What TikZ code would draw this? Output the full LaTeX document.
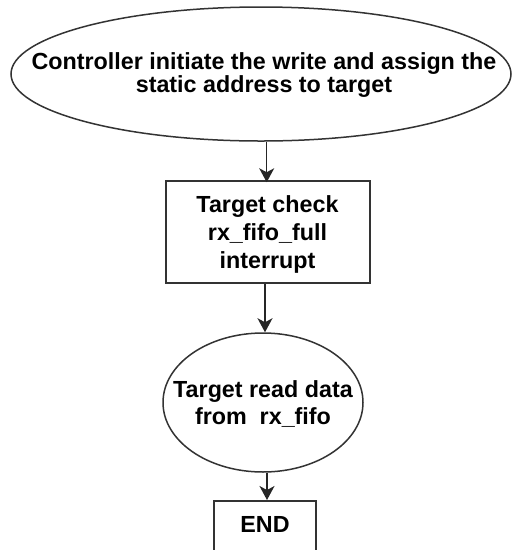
\documentclass[tikz,border=0pt]{standalone}
\usepackage{fontspec}
\setmainfont{Liberation Sans}
\usetikzlibrary{shapes.geometric,arrows.meta}
\begin{document}
\begin{tikzpicture}[x=1pt,y=-1pt,
  outline/.style={draw=black!80, line width=1.5pt},
  flowfont/.style={font=\bfseries\fontsize{23.3}{#1}\selectfont, align=center},
  flowarrow/.style={draw=black!85, line width=1.5pt,
    -{Stealth[length=14pt,width=15pt,inset=4pt]}}]
\clip (0,0) rectangle (512,550);

% start: controller side
\node[outline, ellipse, inner sep=0pt, minimum width=500pt, minimum height=134pt]
  (start) at (261,74) {};
\node[flowfont=23, inner sep=0pt] (startText) at (264,75.5)
  {Controller initiate the write and assign the\\static address to target};

% interrupt check
\node[outline, rectangle, inner sep=0pt, minimum width=204pt, minimum height=102pt]
  (check) at (268,232) {};
\node[flowfont=28, inner sep=0pt] (checkText) at (267.5,234)
  {Target check\\rx\_fifo\_full\\interrupt};

% read from fifo
\node[outline, ellipse, inner sep=0pt, minimum width=200pt, minimum height=139pt]
  (read) at (263,402.5) {};
\node[flowfont=27, inner sep=0pt] (readText) at (263,403.5)
  {Target read data\\from~ rx\_fifo};

% end
\node[outline, rectangle, flowfont=23, anchor=north, inner xsep=0pt, inner ysep=15pt,
  minimum width=102pt, text height=16.7pt, text depth=22pt]
  (finish) at (265,500) {END};

% connectors
\draw[flowarrow] ([xshift=-1.3pt]check.north |- start.south)
  -- ([xshift=-1.3pt,yshift=-2pt]check.north);
\draw[flowarrow] ([xshift=-3pt]check.south) -- ([xshift=-3pt]check.south |- read.north);
\draw[flowarrow] ([xshift=4pt]read.south) -- ([xshift=2pt]finish.north);
\end{tikzpicture}
\end{document}
